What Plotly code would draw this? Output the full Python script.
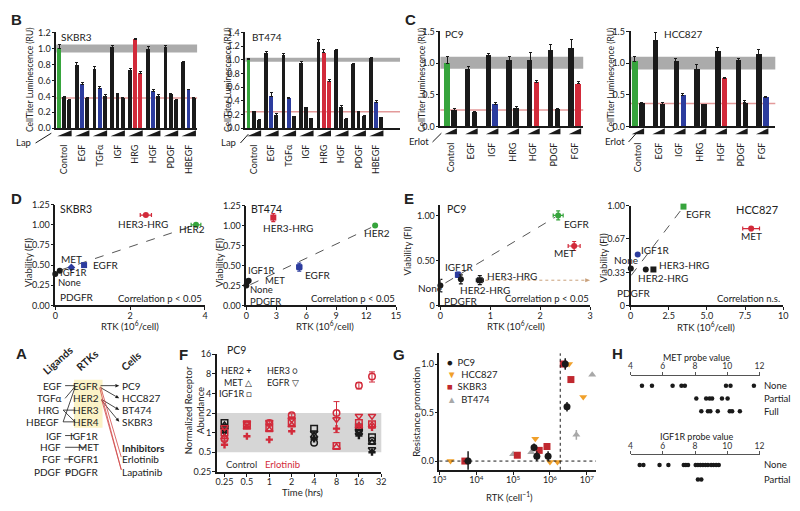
import math
import plotly.graph_objects as go

W, H = 800, 511
FONT = "Lato"
INK = "#1a1a1a"
GREEN = "#36a43c"
BLUE = "#2c3c9e"
RED = "#d22a3a"
CMAP = {"G": GREEN, "K": INK, "B": BLUE, "R": RED}

# ================= DATA =================
# Panel B : CellTiter luminescence (RU), lapatinib 0 / low / high
B_groups = ["Control", "EGF", "TGFα", "IGF", "HRG", "HGF", "PDGF", "HBEGF"]
B_skbr3_vals = [[1.00, 0.39, 0.35], [0.79, 0.55, 0.37], [0.73, 0.50, 0.40], [1.01, 0.43, 0.37],
                [0.72, 1.11, 0.69], [0.99, 0.46, 0.40], [1.01, 0.42, 0.35], [0.82, 0.48, 0.37]]
B_skbr3_err = [[0.05, 0.01, 0.01], [0.03, 0.02, 0.01], [0.04, 0.02, 0.02], [0.03, 0.01, 0.01],
               [0.03, 0.02, 0.02], [0.03, 0.02, 0.02], [0.03, 0.02, 0.01], [0.02, 0.01, 0.02]]
B_skbr3_cols = [["G", "K", "K"], ["K", "B", "K"], ["K", "B", "K"], ["K", "K", "K"],
                ["K", "R", "R"], ["K", "B", "K"], ["K", "K", "K"], ["K", "B", "K"]]
B_skbr3_band = [0.95, 1.05]
B_skbr3_line = 0.38
B_bt474_vals = [[1.00, 0.24, 0.12], [1.09, 0.47, 0.19], [1.06, 0.44, 0.17], [0.95, 0.30, 0.14],
                [1.25, 1.10, 0.68], [1.13, 0.31, 0.13], [0.94, 0.24, 0.18], [1.02, 0.38, 0.16]]
B_bt474_err = [[0.02, 0.01, 0.01], [0.03, 0.05, 0.02], [0.03, 0.01, 0.00], [0.02, 0.01, 0.01],
               [0.05, 0.05, 0.03], [0.02, 0.02, 0.02], [0.01, 0.01, 0.01], [0.01, 0.02, 0.00]]
B_bt474_cols = [["G", "K", "K"], ["K", "B", "K"], ["K", "B", "K"], ["K", "K", "K"],
                ["K", "R", "R"], ["K", "K", "K"], ["K", "K", "K"], ["K", "B", "K"]]
B_bt474_band = [0.97, 1.03]
B_bt474_line = 0.24

# Panel C : erlotinib 0 / high
C_groups = ["Control", "EGF", "IGF", "HRG", "HGF", "PDGF", "FGF"]
C_pc9_vals = [[1.00, 0.25], [0.90, 0.22], [1.12, 0.35], [1.04, 0.28], [1.04, 0.69], [1.20, 0.26], [1.23, 0.67]]
C_pc9_err = [[0.10, 0.03], [0.05, 0.02], [0.03, 0.03], [0.06, 0.03], [0.12, 0.03], [0.10, 0.03], [0.14, 0.04]]
C_pc9_cols = [["G", "K"], ["K", "K"], ["K", "B"], ["K", "K"], ["K", "R"], ["K", "K"], ["K", "R"]]
C_pc9_band = [0.91, 1.10]
C_pc9_line = 0.26
C_hcc_vals = [[1.02, 0.36], [1.35, 0.34], [1.02, 0.49], [0.90, 0.34], [1.19, 0.75], [1.04, 0.37], [1.13, 0.46]]
C_hcc_err = [[0.08, 0.02], [0.14, 0.03], [0.05, 0.03], [0.07, 0.01], [0.05, 0.03], [0.03, 0.04], [0.09, 0.01]]
C_hcc_cols = [["G", "K"], ["K", "K"], ["K", "B"], ["K", "K"], ["K", "R"], ["K", "K"], ["K", "B"]]
C_hcc_band = [0.90, 1.10]
C_hcc_line = 0.36

# Panel D / E : RTK abundance vs viability
D_skbr3_rtk = [0.00, 0.12, 0.43, 0.77, 2.42, 3.76]
D_skbr3_via = [0.39, 0.43, 0.47, 0.50, 1.12, 1.00]
D_skbr3_xerr = [0, 0, 0, 0.05, 0.15, 0.13]
D_skbr3_yerr = [0, 0, 0, 0.02, 0.01, 0.01]
D_skbr3_cols = ["K", "K", "B", "B", "R", "G"]
D_skbr3_sym = ["circle", "circle", "diamond", "square", "circle", "circle"]
D_skbr3_fit_x = [0.15, 3.70]
D_skbr3_fit_y = [0.44, 0.99]

D_bt474_rtk = [0.00, 0.10, 0.23, 2.70, 5.30, 12.90]
D_bt474_via = [0.25, 0.30, 0.31, 1.10, 0.48, 1.00]
D_bt474_xerr = [0, 0, 0, 0.05, 0.25, 0.10]
D_bt474_yerr = [0, 0, 0, 0.05, 0.05, 0.01]
D_bt474_cols = ["K", "K", "K", "R", "B", "G"]
D_bt474_sym = ["circle", "circle", "circle", "square", "square", "circle"]
D_bt474_fit_x = [0.40, 12.50]
D_bt474_fit_y = [0.26, 0.975]

E_pc9_rtk = [0.00, 0.35, 0.41, 0.79, 2.36, 2.68]
E_pc9_via = [0.22, 0.34, 0.29, 0.28, 1.00, 0.66]
E_pc9_xerr = [0, 0.02, 0.02, 0.07, 0.10, 0.12]
E_pc9_yerr = [0.07, 0.03, 0.05, 0.05, 0.05, 0.05]
E_pc9_cols = ["K", "B", "K", "K", "G", "R"]
E_pc9_sym = ["circle", "square", "circle", "square", "circle", "circle"]
E_pc9_fit_x = [0.10, 2.30]
E_pc9_fit_y = [0.25, 0.98]

E_hcc_rtk = [0.02, 0.47, 1.00, 1.50, 3.47, 7.90]
E_hcc_via = [0.37, 0.51, 0.36, 0.36, 0.99, 0.77]
E_hcc_xerr = [0, 0, 0, 0, 0, 0.55]
E_hcc_yerr = [0.01, 0.01, 0.01, 0.01, 0.01, 0.02]
E_hcc_cols = ["K", "B", "K", "K", "G", "R"]
E_hcc_sym = ["circle", "circle", "circle", "square", "square", "circle"]
E_hcc_fit_x = [0.04, 3.43]
E_hcc_fit_y = [0.30, 0.98]

# Panel F : normalized receptor abundance over time (PC9)
F_erl_t = [0.25, 0.5, 1, 2, 8, 16, 24]
F_erl_her2 = [0.65, 0.88, 0.78, 1.05, 1.15, 1.30, 1.20]
F_erl_met = [0.85, 1.20, 1.10, 1.30, 0.60, 1.25, 1.30]
F_erl_igf1r = [1.00, 1.35, 1.20, 1.45, 0.62, 1.40, 1.35]
F_erl_her3 = [0.80, 1.30, 1.40, 1.85, 2.00, 5.30, 7.30]
F_erl_her3_err = [0.05, 0.05, 0.10, 0.10, 1.00, 0.60, 1.30]
F_erl_egfr = [1.20, 1.40, 1.45, 1.60, 1.60, 1.80, 1.80]
F_ctl_t = [0.25, 4, 16, 24]
F_ctl_her2 = [1.00, 0.80, 0.90, 0.50]
F_ctl_met = [1.30, 0.90, 1.00, 0.70]
F_ctl_igf1r = [1.40, 1.15, 1.20, 0.85]
F_ctl_her3 = [1.20, 0.70, 1.10, 0.75]
F_ctl_egfr = [1.10, 1.00, 1.05, 0.55]
F_band = [0.5, 2.0]

# Panel G : resistance promotion vs RTK
G_pc9_x = [6.0e3, 3.7e5, 4.4e5, 8.9e5, 2.6e6, 2.9e6]
G_pc9_y = [0.00, 0.14, 0.05, 0.05, 1.00, 0.56]
G_pc9_yerr = [0.10, 0.04, 0.05, 0.05, 0.06, 0.05]
G_hcc_x = [2.0e3, 4.0e5, 1.0e6, 1.6e6, 3.3e6, 8.0e6]
G_hcc_y = [0.00, 0.23, -0.01, -0.01, 1.00, 0.66]
G_skbr3_x = [4.9e3, 1.3e5, 5.1e5, 8.3e5, 2.3e6, 3.7e6]
G_skbr3_y = [0.00, 0.06, 0.11, 0.15, 1.00, 0.84]
G_bt474_x = [1.0e3, 1.0e5, 3.1e5, 2.6e6, 5.2e6, 1.4e7]
G_bt474_y = [0.00, 0.07, 0.09, 1.00, 0.27, 0.89]
G_bt474_yerr = [0.0, 0.0, 0.0, 0.05, 0.05, 0.0]
G_threshold = 1.9e6

# Panel H : probe values
H_met_none = [4.71, 5.33, 6.61, 7.16, 7.37, 9.92, 10.20, 11.65]
H_met_partial = [8.08, 8.69, 8.90, 9.06, 9.67, 10.02]
H_met_full = [8.39, 8.80, 8.95, 9.41, 10.15, 10.30, 10.78]
H_igf_none = [4.57, 4.80, 5.80, 6.35, 7.30, 7.43, 7.57, 8.04, 8.18, 8.33, 8.49, 8.65,
              8.80, 9.00, 9.14, 9.31, 9.47]
H_igf_partial = [8.18, 8.39]

# ================= FIGURE =================
fig = go.Figure()
AX = {}
shapes = []
annotations = []

BASE_AX = dict(showline=True, linecolor=INK, linewidth=1.5, ticks="outside", ticklen=3,
               tickwidth=1.2, tickcolor=INK, showgrid=False, zeroline=False,
               tickfont=dict(family=FONT, size=9, color="#222"))


def suf(i):
    return "" if i == 1 else str(i)


def add_axes(i, xd, yd, xkw, ykw):
    s = suf(i)
    xa = dict(BASE_AX)
    xa.update(domain=[xd[0] / W, xd[1] / W], anchor="y" + s)
    xa.update(xkw)
    ya = dict(BASE_AX)
    ya.update(domain=[1 - yd[1] / H, 1 - yd[0] / H], anchor="x" + s)
    ya.update(ykw)
    AX["xaxis" + s] = xa
    AX["yaxis" + s] = ya
    return "x" + s, "y" + s


def ann(text, x, y, size=9, xanchor="center", yanchor="middle", color="#222", angle=0,
        family=FONT):
    annotations.append(dict(text=text, x=x / W, y=1 - y / H, xref="paper", yref="paper",
                            showarrow=False, xanchor=xanchor, yanchor=yanchor, textangle=angle,
                            font=dict(family=family, size=size, color=color)))


def pline(x0, y0, x1, y1, color=INK, width=0.8, dash="solid"):
    shapes.append(dict(type="line", xref="paper", yref="paper", x0=x0 / W, y0=1 - y0 / H,
                       x1=x1 / W, y1=1 - y1 / H, line=dict(color=color, width=width, dash=dash)))


def parrow(x0, y0, x1, y1, color=INK, width=0.8, dash="solid", hl=4.0, hw=1.8):
    # line + triangular head, all in pixel space converted to paper
    dx, dy = x1 - x0, y1 - y0
    L = math.hypot(dx, dy)
    ux, uy = dx / L, dy / L
    bx, by = x1 - ux * hl, y1 - uy * hl
    pline(x0, y0, bx, by, color=color, width=width, dash=dash)
    p1 = (bx - uy * hw, by + ux * hw)
    p2 = (bx + uy * hw, by - ux * hw)
    shapes.append(dict(type="path", xref="paper", yref="paper",
                       path="M %f,%f L %f,%f L %f,%f Z" % (x1 / W, 1 - y1 / H, p1[0] / W,
                                                           1 - p1[1] / H, p2[0] / W,
                                                           1 - p2[1] / H),
                       fillcolor=color, line_width=0))


def letter(t, x, y):
    ann("<b>%s</b>" % t, x, y, size=15, family="Liberation Sans")


# ---------- bar panels ----------
def bar_panel(i, groups, vals, errs, cols, xd, yd, xrng, yrng, dtick, band, redline, gap,
              wedge_y, bw):
    n = len(vals[0])
    step = n + gap
    xs, ys, es, cs = [], [], [], []
    for g in range(len(groups)):
        for j in range(n):
            xs.append(g * step + j)
            ys.append(vals[g][j])
            es.append(errs[g][j])
            cs.append(CMAP[cols[g][j]])
    centers = [g * step + (n - 1) / 2 for g in range(len(groups))]
    xr, yr = add_axes(i, xd, yd,
                      dict(range=xrng, tickvals=centers, ticktext=groups, tickangle=-90,
                           ticks="", ticklabelstandoff=11,
                           tickfont=dict(family=FONT, size=9, color="#222")),
                      dict(range=yrng, dtick=dtick, tickformat=".1f", ticklabelstandoff=-1))
    fig.add_trace(go.Bar(x=xs, y=ys, width=bw, marker=dict(color=cs, line_width=0),
                         error_y=dict(type="data", symmetric=False, array=es,
                                      arrayminus=[0] * len(es), color=INK, thickness=1,
                                      width=1.5),
                         xaxis=xr, yaxis=yr, showlegend=False))
    shapes.append(dict(type="rect", xref=xr + " domain", yref=yr, x0=0, x1=1, y0=band[0],
                       y1=band[1], fillcolor="#ababab", line_width=0, layer="below"))
    shapes.append(dict(type="line", xref=xr + " domain", yref=yr, x0=0, x1=1, y0=redline,
                       y1=redline, line=dict(color="#e39a9a", width=1.5), layer="below"))

    def tpx(v):
        return xd[0] + (v - xrng[0]) / (xrng[1] - xrng[0]) * (xd[1] - xd[0])

    for g in range(len(groups)):
        a = tpx(g * step - bw / 2)
        b = tpx(g * step + n - 1 + bw / 2)
        shapes.append(dict(type="path", xref="paper", yref="paper",
                           path="M %f,%f L %f,%f L %f,%f Z" % (a / W, 1 - wedge_y[1] / H,
                                                               b / W, 1 - wedge_y[1] / H,
                                                               b / W, 1 - wedge_y[0] / H),
                           fillcolor=INK, line_width=0))


bar_panel(1, B_groups, B_skbr3_vals, B_skbr3_err, B_skbr3_cols, (50, 193), (27, 125),
          [-0.57, 26.4], [0, 1.2], 0.2, B_skbr3_band, B_skbr3_line, 0.4, (127, 133), 0.75)
bar_panel(2, B_groups, B_bt474_vals, B_bt474_err, B_bt474_cols, (242, 399), (27, 125),
          [-0.69, 29.4], [0, 1.4], 0.2, B_bt474_band, B_bt474_line, 0.4, (127, 133), 0.75)
bar_panel(3, C_groups, C_pc9_vals, C_pc9_err, C_pc9_cols, (440, 585), (26, 123),
          [-1.0, 19.7], [0, 1.5], 0.5, C_pc9_band, C_pc9_line, 1, (125, 131), 0.8)
bar_panel(4, C_groups, C_hcc_vals, C_hcc_err, C_hcc_cols, (633, 780), (26, 123),
          [-0.57, 20.4], [0, 1.5], 0.5, C_hcc_band, C_hcc_line, 1, (125, 131), 0.8)

ytl = "CellTiter Luminescence (RU)"
ann(ytl, 24, 76, size=8.5, angle=-90)
ann(ytl, 225, 76, size=8.5, angle=-90)
ann(ytl, 422, 76, size=8.5, angle=-90)
ann(ytl, 614, 76, size=8.5, angle=-90)
ann("SKBR3", 53, 32, size=10, xanchor="left")
ann("BT474", 247, 32, size=10, xanchor="left")
ann("PC9", 443, 29, size=10, xanchor="left")
ann("HCC827", 665, 29, size=10, xanchor="left")
ann("Lap", 7, 139, size=9.5, xanchor="left")
pline(29, 140, 45, 130, width=1)
ann("Lap", 215, 139, size=9.5, xanchor="left")
pline(237, 140, 245, 131, width=1)
ann("Erlot", 406, 138, size=9.5, xanchor="left")
pline(432, 139, 441, 130, width=1)
ann("Erlot", 605, 138, size=9.5, xanchor="left")
pline(631, 139, 639, 130, width=1)


# ---------- scatter panels D/E ----------
def scat_panel(i, xd, yd, xkw, ykw, rtk, via, xerr, yerr, cols, syms, fx, fy):
    xkw = dict(xkw, ticklabelstandoff=-2)
    ykw = dict(ykw, ticklabelstandoff=-1)
    xr, yr = add_axes(i, xd, yd, xkw, ykw)
    fig.add_trace(go.Scatter(x=fx, y=fy, mode="lines", line=dict(color="#555", width=1,
                                                                  dash="dash"),
                             xaxis=xr, yaxis=yr, showlegend=False, hoverinfo="skip"))
    for k in range(len(rtk)):
        c = CMAP[cols[k]]
        fig.add_trace(go.Scatter(
            x=[rtk[k]], y=[via[k]], mode="markers",
            marker=dict(color=c, size=6, symbol=syms[k]),
            error_x=dict(type="data", array=[xerr[k]], color=c, thickness=1.2, width=2,
                         visible=xerr[k] > 0),
            error_y=dict(type="data", array=[yerr[k]], color=c, thickness=1.2, width=2,
                         visible=yerr[k] > 0),
            cliponaxis=False, xaxis=xr, yaxis=yr, showlegend=False))
    return xr, yr


scat_panel(5, (49, 201), (203, 306), dict(range=[0, 4], tickvals=[0, 2, 4]),
           dict(range=[0, 1.25], tickvals=[0, 0.25, 0.5, 0.75, 1.0, 1.25], tickformat=".2f"),
           D_skbr3_rtk, D_skbr3_via, D_skbr3_xerr, D_skbr3_yerr, D_skbr3_cols, D_skbr3_sym,
           D_skbr3_fit_x, D_skbr3_fit_y)
scat_panel(6, (243, 395), (204, 306), dict(range=[0, 15], tickvals=[0, 3, 6, 9, 12, 15]),
           dict(range=[0, 1.25], tickvals=[0, 0.25, 0.5, 0.75, 1.0, 1.25], tickformat=".2f"),
           D_bt474_rtk, D_bt474_via, D_bt474_xerr, D_bt474_yerr, D_bt474_cols, D_bt474_sym,
           D_bt474_fit_x, D_bt474_fit_y)
xr7, yr7 = scat_panel(7, (440, 592), (203, 306), dict(range=[0, 3], tickvals=[0, 1, 2, 3]),
                      dict(range=[0, 1.12], tickvals=[0, 0.5, 1.0],
                           ticktext=["0", "0.50", "1.00"]),
                      E_pc9_rtk, E_pc9_via, E_pc9_xerr, E_pc9_yerr, E_pc9_cols, E_pc9_sym,
                      E_pc9_fit_x, E_pc9_fit_y)
scat_panel(8, (633, 788), (204, 306),
           dict(range=[0, 10], tickvals=[0, 2.5, 5, 7.5, 10],
                ticktext=["0", "2.5", "5.0", "7.5", "10"]),
           dict(range=[0, 1.0], tickvals=[0, 0.33, 0.67, 1.0],
                ticktext=["0", "0.33", "0.67", "1.00"]),
           E_hcc_rtk, E_hcc_via, E_hcc_xerr, E_hcc_yerr, E_hcc_cols, E_hcc_sym,
           E_hcc_fit_x, E_hcc_fit_y)

# dotted arrow (PC9 HER3-HRG -> right edge of panel)
_y_arrow = 306 - E_pc9_via[3] / 1.12 * (306 - 203)
parrow(440 + 0.9 / 3 * 152, _y_arrow, 592, _y_arrow, color="#c9a07a", width=1, dash="dot",
       hl=5, hw=2)

S = 10
for xx in (22, 216):
    ann("Viability (FI)", xx, 262, size=9.5, angle=-90)
ann("Viability (FI)", 407, 250, size=9.5, angle=-90)
ann("Viability (FI)", 606, 257, size=9.5, angle=-90)
ann("RTK (10<sup>6</sup>/cell)", 125, 327, size=9.5)
ann("RTK (10<sup>6</sup>/cell)", 323, 327, size=9.5)
ann("RTK (10<sup>6</sup>/cell)", 517, 327, size=9.5)
ann("RTK (10<sup>6</sup>/cell)", 710, 328, size=9.5)
# D SKBR3 labels
ann("SKBR3", 52, 207, size=S + 0.5, xanchor="left")
ann("HER3-HRG", 138, 223, size=S)
ann("HER2", 188, 228, size=S)
ann("MET", 53, 259, size=S, xanchor="left")
ann("EGFR", 85, 265, size=S, xanchor="left")
ann("IGF1R", 52, 272, size=9.5, xanchor="left")
ann("None", 50, 283, size=9.5, xanchor="left")
ann("PDGFR", 52, 297, size=S, xanchor="left")
ann("Correlation p < 0.05", 200, 299, size=9.5, xanchor="right")
# D BT474 labels
ann("BT474", 246, 207, size=S + 0.5, xanchor="left")
ann("HER3-HRG", 285, 227, size=S)
ann("HER2", 376, 232, size=S)
ann("EGFR", 300, 275, size=S, xanchor="left")
ann("IGF1R", 243, 270, size=9.5, xanchor="left")
ann("MET", 260, 281, size=9.5, xanchor="left")
ann("None", 245, 290, size=9.5, xanchor="left")
ann("PDGFR", 245, 302, size=9.5, xanchor="left")
ann("Correlation p < 0.05", 396, 299, size=9.5, xanchor="right")
# E PC9 labels
ann("PC9", 445, 207, size=S + 0.5, xanchor="left")
ann("EGFR", 563, 223, size=S, xanchor="left")
ann("MET", 553, 252, size=S, xanchor="left")
ann("IGF1R", 443, 267, size=S, xanchor="left")
ann("HER3-HRG", 485, 276, size=S, xanchor="left")
ann("HER2-HRG", 458, 290, size=S, xanchor="left")
ann("None", 415, 288, size=S, xanchor="left")
ann("PDGFR", 442, 302, size=S, xanchor="left")
ann("Correlation p < 0.05", 593, 299, size=9.5, xanchor="right")
# E HCC827 labels
ann("HCC827", 738, 208, size=S + 1, xanchor="left")
ann("EGFR", 687, 213, size=S, xanchor="left")
ann("MET", 756, 235, size=S)
ann("IGF1R", 642, 249, size=S, xanchor="left")
ann("None", 614, 260, size=S, xanchor="left")
ann("HER3-HRG", 660, 265, size=S, xanchor="left")
ann("HER2-HRG", 639, 278, size=S, xanchor="left")
ann("PDGFR", 617, 293, size=S, xanchor="left")
ann("Correlation n.s.", 787, 299, size=9.5, xanchor="right")

# ---------- Panel F ----------
xr9, yr9 = add_axes(9, (213, 380), (356, 476),
                    dict(type="log", range=[math.log10(0.197), math.log10(32)],
                         tickvals=[0.25, 0.5, 1, 2, 4, 8, 16, 32],
                         ticktext=["0.25", "0.5", "1", "2", "4", "8", "16", "32"],
                         ticklabelstandoff=-2),
                    dict(type="log", range=[math.log10(0.25), math.log10(16)],
                         tickvals=[0.25, 0.5, 1, 2, 4, 8, 16],
                         ticktext=["0.25", "0.5", "1", "2", "4", "8", "16"],
                         ticklabelstandoff=-1))
shapes.append(dict(type="rect", xref=xr9 + " domain", yref=yr9, x0=0, x1=1, y0=F_band[0],
                   y1=F_band[1], fillcolor="#d6d6d6", line_width=0, layer="below"))
F_sets = [
    (F_ctl_t, F_ctl_her2, "cross", None, INK),
    (F_ctl_t, F_ctl_met, "triangle-up-open", None, INK),
    (F_ctl_t, F_ctl_igf1r, "square-open", None, INK),
    (F_ctl_t, F_ctl_her3, "circle-open", None, INK),
    (F_ctl_t, F_ctl_egfr, "triangle-down-open", None, INK),
    (F_erl_t, F_erl_her2, "cross", None, RED),
    (F_erl_t, F_erl_met, "triangle-up-open", None, RED),
    (F_erl_t, F_erl_igf1r, "square-open", None, RED),
    (F_erl_t, F_erl_her3, "circle-open", F_erl_her3_err, RED),
    (F_erl_t, F_erl_egfr, "triangle-down-open", None, RED),
]
for tt, vv, sym, err, col in F_sets:
    kw = {}
    if err is not None:
        kw["error_y"] = dict(type="data", array=err, color=col, thickness=1, width=3)
    fig.add_trace(go.Scatter(
        x=tt, y=vv, mode="markers",
        marker=dict(symbol=sym, size=6 if "cross" in sym else 6.5, color=col,
                    line=dict(color=col, width=1.5 if "open" in sym else 0)),
        cliponaxis=False, xaxis=xr9, yaxis=yr9, showlegend=False, **kw))
ann("PC9", 221, 352, size=10.5, xanchor="left")
ann("HER2 <b>+</b>", 250, 373, size=9, xanchor="right")
ann("MET △", 251, 385, size=9, xanchor="right")
ann("IGF1R □", 251, 396, size=9, xanchor="right")
ann("HER3 ○", 262, 373, size=9, xanchor="left")
ann("EGFR ▽", 262, 385, size=9, xanchor="left")
ann("Control", 220, 469, size=9.5, xanchor="left", color="#333")
ann("Erlotinib", 260, 469, size=9.5, xanchor="left", color=RED)
ann("Time (hrs)", 300, 497, size=9.5)
ann("Normalized Receptor<br>Abundance", 190, 413, size=9.5, angle=-90)

# ---------- Panel G ----------
xr10, yr10 = add_axes(10, (439, 598), (355, 474),
                      dict(type="log", range=[3, 7.25], tickvals=[1e3, 1e4, 1e5, 1e6, 1e7],
                           ticktext=["10<sup>3</sup>", "10<sup>4</sup>", "10<sup>5</sup>",
                                     "10<sup>6</sup>", "10<sup>7</sup>"],
                           ticklabelstandoff=-2),
                      dict(range=[-0.09, 1.11], tickvals=[0, 0.5, 1.0],
                           ticktext=["0.0", "0.5", "1.0"], ticklabelstandoff=-1))
shapes.append(dict(type="line", xref=xr10 + " domain", yref=yr10, x0=0, x1=1, y0=0, y1=0,
                   line=dict(color=INK, width=1, dash="dot")))
shapes.append(dict(type="line", xref=xr10, yref=yr10 + " domain", x0=G_threshold,
                   x1=G_threshold, y0=0, y1=1, line=dict(color=INK, width=1, dash="dot")))
fig.add_trace(go.Scatter(x=G_bt474_x, y=G_bt474_y, mode="markers", name="BT474",
                         marker=dict(symbol="triangle-up", size=7, color="#a8a8a8"),
                         error_y=dict(type="data", array=G_bt474_yerr, color="#a8a8a8",
                                      thickness=1.5, width=0),
                         cliponaxis=False, xaxis=xr10, yaxis=yr10, showlegend=False))
fig.add_trace(go.Scatter(x=G_hcc_x, y=G_hcc_y, mode="markers", name="HCC827",
                         marker=dict(symbol="triangle-down", size=7, color="#f0a02a"),
                         cliponaxis=False, xaxis=xr10, yaxis=yr10, showlegend=False))
fig.add_trace(go.Scatter(x=G_skbr3_x, y=G_skbr3_y, mode="markers", name="SKBR3",
                         marker=dict(symbol="square", size=7, color="#c0282f"),
                         cliponaxis=False, xaxis=xr10, yaxis=yr10, showlegend=False))
fig.add_trace(go.Scatter(x=G_pc9_x, y=G_pc9_y, mode="markers", name="PC9",
                         marker=dict(symbol="circle", size=7, color=INK),
                         error_y=dict(type="data", array=G_pc9_yerr, color=INK,
                                      thickness=1.5, width=0),
                         cliponaxis=False, xaxis=xr10, yaxis=yr10, showlegend=False))
ann("<span style='color:#1a1a1a'>●</span>  PC9", 445, 364, size=9.5, xanchor="left")
ann("<span style='color:#f0a02a'>▼</span>  HCC827", 445, 377, size=9.5, xanchor="left")
ann("<span style='color:#c0282f'>■</span>  SKBR3", 445, 389, size=9.5, xanchor="left")
ann("<span style='color:#a8a8a8'>▲</span>  BT474", 445, 402, size=9.5, xanchor="left")
ann("Resistance promotion", 415, 415, size=9.5, angle=-90)
ann("RTK (cell<sup>−1</sup>)", 510, 501, size=9.5)

# ---------- Panel H ----------
HX = dict(range=[4, 12], tickvals=[4, 6, 8, 10, 12], side="top", linecolor="#555",
          linewidth=1, tickcolor="#555", ticklen=3, ticklabelstandoff=-1,
          tickfont=dict(family=FONT, size=8.5, color="#333"))
HY = dict(visible=False)
xr11, yr11 = add_axes(11, (633, 764), (378, 418), HX, dict(HY, range=[3.3, 0.23]))
xr12, yr12 = add_axes(12, (633, 764), (459, 490), HX, dict(HY, range=[2.4, 0.333]))
for vals_, row, xr_, yr_ in [(H_met_none, 1, xr11, yr11), (H_met_partial, 2, xr11, yr11),
                             (H_met_full, 3, xr11, yr11), (H_igf_none, 1, xr12, yr12),
                             (H_igf_partial, 2, xr12, yr12)]:
    fig.add_trace(go.Scatter(x=vals_, y=[row] * len(vals_), mode="markers",
                             marker=dict(color=INK, size=4.5), xaxis=xr_, yaxis=yr_,
                             showlegend=False))
ann("MET probe value", 700, 359, size=9)
ann("IGF1R probe value", 700, 440, size=9)
for t, yy in [("None", 388), ("Partial", 401), ("Full", 414), ("None", 469), ("Partial", 484)]:
    ann(t, 767, yy, size=9.5, xanchor="left")

# ---------- Panel A (diagram) ----------
shapes.append(dict(type="rect", xref="paper", yref="paper", x0=68 / W, x1=97 / W,
                   y0=1 - 431 / H, y1=1 - 382 / H, fillcolor="#fbf2c6", line_width=0,
                   layer="below"))
ann("<b>Ligands</b>", 52, 362, size=10.5, angle=-42)
ann("<b>RTKs</b>", 82, 362, size=10.5, angle=-42)
ann("<b>Cells</b>", 126, 363, size=10.5, angle=-42)
A_lig = ["EGF", "TGFα", "HRG", "HBEGF", "IGF", "HGF", "FGF", "PDGF"]
A_rtk = ["EGFR", "HER2", "HER3", "HER4", "IGF1R", "MET", "FGFR1", "PDGFR"]
A_cells = ["PC9", "HCC827", "BT474", "SKBR3"]
rows = [388, 401, 413, 425, 439, 451, 463, 476]
lig_right = [58, 58, 55, 55, 58, 57, 57, 57]
for k in range(8):
    ann(A_lig[k], lig_right[k], rows[k], size=10, xanchor="right")
    ann(A_rtk[k], 95, rows[k], size=10, xanchor="right")
for k in range(4):
    ann(A_cells[k], 115, rows[k], size=10, xanchor="left")
ann("<b>Inhibitors</b>", 115, 452, size=10, xanchor="left")
ann("Erlotinib", 115, 463, size=10, xanchor="left")
ann("Lapatinib", 115, 476, size=10, xanchor="left")
for (x0, y0, x1, y1) in [(59, 388, 69, 388), (59, 401, 69, 389), (57, 413, 69, 413),
                         (57, 413, 69, 425), (57, 425, 69, 390), (57, 425, 69, 425),
                         (59, 439, 68, 439), (59, 451, 80, 451), (58, 463, 66, 463),
                         (59, 476, 64, 476)]:
    pline(x0, y0, x1, y1, width=0.8)
for (x0, y0, x1, y1) in [(95, 388, 114, 388), (95, 390, 114, 401), (96, 402, 114, 413),
                         (96, 403, 114, 425)]:
    parrow(x0, y0, x1, y1)
for (x0, y0, x1, y1) in [(95, 389, 116, 461), (94, 390, 116, 474), (96, 402, 116, 474)]:
    pline(x0, y0, x1, y1, color="#d04848", width=0.8)

# panel letters
letter("B", 10, 14)
letter("C", 410, 14)
letter("D", 10, 197)
letter("E", 408, 197)
letter("A", 15, 355)
letter("F", 179, 356)
letter("G", 398, 356)
letter("H", 620, 355)

fig.update_layout(width=W, height=H, margin=dict(l=0, r=0, t=0, b=0),
                  paper_bgcolor="white", plot_bgcolor="rgba(0,0,0,0)",
                  font=dict(family=FONT, size=9, color="#222"), showlegend=False,
                  bargap=0, shapes=shapes, annotations=annotations, **AX)
fig.write_html("out.html", config={"displayModeBar": False},
               post_script="document.body.style.margin='0px';"
                           "document.body.style.overflow='hidden';")
